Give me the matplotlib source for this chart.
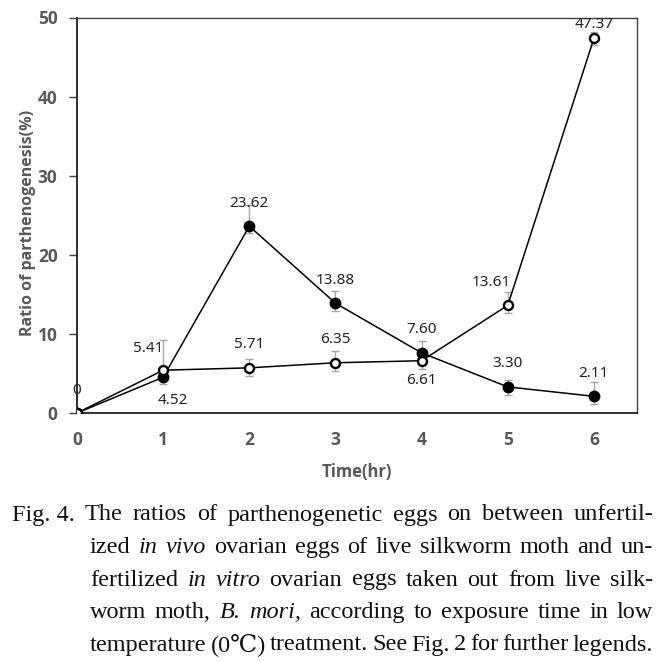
import numpy as np
import matplotlib
matplotlib.use('Agg')
import matplotlib.pyplot as plt

# exposure time (hr)
hours = [0, 1, 2, 3, 4, 5, 6]

# open circles
open_vals = [0, 5.41, 5.71, 6.35, 6.61, 13.61, 47.37]
open_err_lo = [0, 0.9, 1.0, 1.1, 1.1, 1.0, 0.8]
open_err_hi = [0, 3.8, 1.1, 1.5, 1.0, 1.7, 0.8]
open_labels = ['0', '5.41', '5.71', '6.35', '6.61', '13.61', '47.37']

# filled circles
filled_vals = [0, 4.52, 23.62, 13.88, 7.60, 3.30, 2.11]
filled_err_lo = [0, 0.9, 0.9, 1.0, 1.1, 1.0, 1.0]
filled_err_hi = [0, 0.0, 2.7, 1.6, 1.5, 0.9, 1.8]
filled_labels = ['', '4.52', '23.62', '13.88', '7.60', '3.30', '2.11']

caption = [
    [('Fig. 4.', 'n'), ('The', 'n'), ('ratios', 'n'), ('of', 'n'), ('parthenogenetic', 'n'), ('eggs', 'n'),
     ('on', 'n'), ('between', 'n'), ('unfertil-', 'n')],
    [('ized', 'n'), ('in', 'i'), ('vivo', 'i'), ('ovarian', 'n'), ('eggs', 'n'), ('of', 'n'), ('live', 'n'),
     ('silkworm', 'n'), ('moth', 'n'), ('and', 'n'), ('un-', 'n')],
    [('fertilized', 'n'), ('in', 'i'), ('vitro', 'i'), ('ovarian', 'n'), ('eggs', 'n'), ('taken', 'n'),
     ('out', 'n'), ('from', 'n'), ('live', 'n'), ('silk-', 'n')],
    [('worm', 'n'), ('moth,', 'n'), ('B.', 'i'), ('mori,', 'i'), ('according', 'n'), ('to', 'n'),
     ('exposure', 'n'), ('time', 'n'), ('in', 'n'), ('low', 'n')],
    [('temperature', 'n'), ('(0\u2103)', 'n'), ('treatment.', 'n'), ('See', 'n'), ('Fig.', 'n'), ('2', 'n'),
     ('for', 'n'), ('further', 'n'), ('legends.', 'n')],
]

W, H = 665, 662
fig = plt.figure(figsize=(W / 100, H / 100), dpi=100)
ax = fig.add_axes([77 / W, 1 - 413 / H, (637 - 77) / W, (413 - 17.5) / H])

gray = '#595959'
sans = ['Open Sans', 'DejaVu Sans']
ax.errorbar(hours, filled_vals, yerr=[filled_err_lo, filled_err_hi], fmt='none',
            ecolor='#a6a6a6', elinewidth=1, capsize=3, capthick=1, zorder=2)
ax.errorbar(hours, open_vals, yerr=[open_err_lo, open_err_hi], fmt='none',
            ecolor='#a6a6a6', elinewidth=1, capsize=3, capthick=1, zorder=2)
ax.plot(hours, filled_vals, color='black', lw=1.1, marker='o', ms=7.5,
        mfc='black', mec='black', zorder=3)
ax.plot(hours, open_vals, color='black', lw=1.1, marker='o', ms=6.5,
        mfc='white', mec='black', mew=1.7, zorder=4)

# data labels (pixel offsets from the point)
open_off = [(0, 23), (-15, 22), (0, 23), (0, 23), (0, -20), (-16, 23), (0, 14)]
filled_off = [(0, 0), (10, -23), (0, 23), (0, 23), (0, 23), (0, 23), (0, 23)]
for x, y, s, o in zip(hours, open_vals, open_labels, open_off):
    ax.annotate(s, (x, y), xytext=o, textcoords='offset pixels', ha='center', va='center',
                fontsize=11, color='#222222', family='Noto Sans', annotation_clip=False)
for x, y, s, o in zip(hours, filled_vals, filled_labels, filled_off):
    if s:
        ax.annotate(s, (x, y), xytext=o, textcoords='offset pixels', ha='center', va='center',
                    fontsize=11, color='#222222', family='Noto Sans')

ax.set_xlim(0, 6.5)
ax.set_ylim(0, 50)
ax.set_xticks(hours)
ax.set_yticks([0, 10, 20, 30, 40, 50])
ax.tick_params(axis='x', length=0, pad=13)
ax.tick_params(axis='y', length=6, width=1, direction='out', color='#404040', pad=8)
for lab in ax.get_xticklabels() + ax.get_yticklabels():
    lab.set_fontweight('bold')
    lab.set_color(gray)
    lab.set_fontsize(12.5)
    lab.set_family(sans)
for side in ['left', 'bottom']:
    ax.spines[side].set_linewidth(1.3)
    ax.spines[side].set_color('#202020')
for side in ['top', 'right']:
    ax.spines[side].set_linewidth(1.0)
    ax.spines[side].set_color('#404040')

fig.text(28 / W, 1 - 223 / H, 'Ratio of parthenogenesis(%)', rotation=90, ha='center', va='center',
         fontsize=11.5, fontweight='bold', color=gray, family=sans)
fig.text(357 / W, 1 - 472 / H, 'Time(hr)', ha='center', va='center', fontsize=12,
         fontweight='bold', color=gray, family=sans)

# caption, justified line by line
renderer = fig.canvas.get_renderer()
line_y = [515, 547.5, 580, 612.5, 645]
right_px = 653
serif = ['Liberation Serif', 'DejaVu Serif']
for i, words in enumerate(caption):
    left_px = 12 if i == 0 else 90
    texts = []
    for w, st in words:
        t = fig.text(0, 1 - line_y[i] / H, w, ha='left', va='center', fontsize=17.5,
                     family=serif, style='italic' if st == 'i' else 'normal',
                     color='#111111')
        texts.append(t)
    widths = [t.get_window_extent(renderer).width for t in texts]
    gap = (right_px - left_px - sum(widths)) / (len(texts) - 1)
    x = left_px
    for t, w in zip(texts, widths):
        t.set_x(x / W)
        x += w + gap

fig.savefig('out.png', dpi=100)
